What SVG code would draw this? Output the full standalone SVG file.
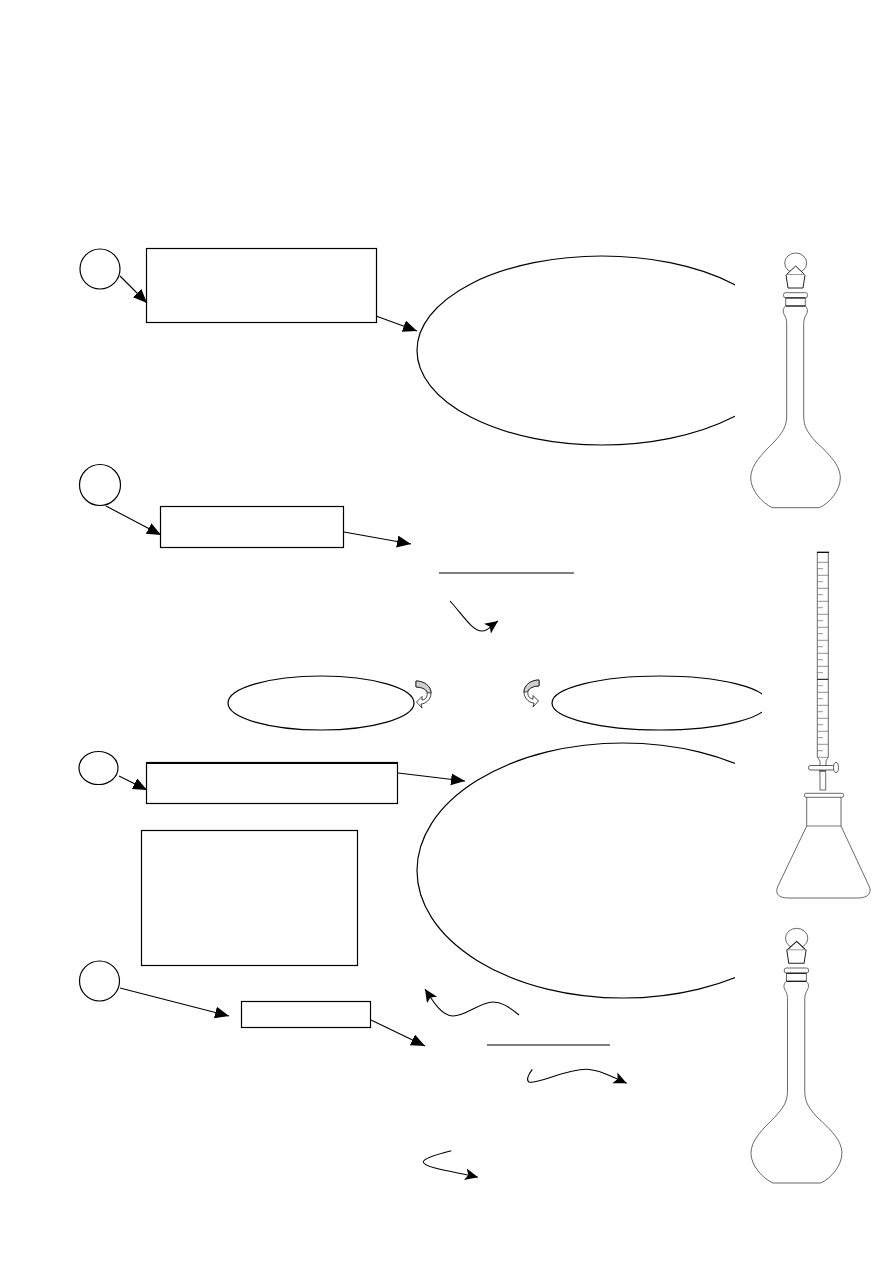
<svg xmlns="http://www.w3.org/2000/svg" width="893" height="1263" viewBox="0 0 893 1263">
<style>
.s{fill:none;stroke:#000;stroke-width:1.2}
.a{fill:none;stroke:#000;stroke-width:1.1;marker-end:url(#h)}
.c{fill:none;stroke:#000;stroke-width:1.1;marker-end:url(#v)}
.g{fill:none;stroke:#444;stroke-width:.8}
.t{stroke:#777;stroke-width:.8}
.cw{fill:#fff;stroke:#111;stroke-width:.8}
.cg{fill:#cfcfcf;stroke:#111;stroke-width:.8}
</style>
<defs>
<marker id="h" markerUnits="userSpaceOnUse" markerWidth="16" markerHeight="14" refX="14" refY="6" orient="auto"><path d="M0,0L14,6L0,12Z"/></marker>
<marker id="v" markerUnits="userSpaceOnUse" markerWidth="16" markerHeight="14" refX="13" refY="6" orient="auto"><path d="M0,0L13,6L0,12L3,6Z"/></marker>
<clipPath id="k1"><rect x="400" y="240" width="335" height="220"/></clipPath>
<clipPath id="k2"><rect x="400" y="730" width="335" height="280"/></clipPath>
<clipPath id="k3"><rect x="540" y="660" width="222" height="80"/></clipPath>
<g id="flask">
<ellipse cx="795.700" cy="263" rx="11" ry="10" fill="none" stroke="#444" stroke-width=".8"/>
<path d="M795.700,266L786,275L788,288H803L805,275Z" fill="#fff" stroke="#222" stroke-width="1"/>
<path d="M786.500,274.500H805" stroke="#999"/>
<rect x="783.500" y="292.700" width="24" height="5" rx="2" class="g"/>
<path d="M785.700,297.700V306H805.300V297.700" class="g"/>
<path d="M785.700,298H805.300M785.700,306H805.300" stroke="#000" stroke-width="1"/>
<path class="g" d="M785.700,306C782,309 783,313 785,316C786.500,319 786.700,321 786.700,325V416C786.700,427 782,433 774,442C762,454 750.700,465 750.700,478C750.700,490 762,503 772.300,507.700H819.300C830,503 840.300,490 840.300,478C840.300,465 829,454 816,442C808,433 803.700,427 803.700,416V325C803.700,321 804,319 805.500,316C807.500,313 808.500,309 805.300,306"/>
</g>
<g id="curl">
<path class="cw" d="M416,681C424,681 431,686 431,693C431,700 425,704 421,704L422,708L416.500,702L422,696.500L422,700C425,700 428,697 427,692C426,689 421,687 416,687Z"/>
<path class="cg" d="M416,681C424,681 431,686 431,693C429,693 428,693 427,692C426,689 421,687 416,687Z"/>
</g>
</defs>

<g id="connectors">
<path class="a" d="M120,276L147,303"/>
<path class="a" d="M376,316L417,331"/>
<path class="a" d="M106,506L161,535"/>
<path class="a" d="M344,532L411,544"/>
<path class="a" d="M119,776L147,790"/>
<path class="a" d="M398,773L465,781"/>
<path class="a" d="M120,988L229,1016"/>
<path class="a" d="M371,1020L425,1046"/>
<path class="c" d="M450,601C462,614 472,631 482,631C488,631 491,626 498,621"/>
<path class="c" d="M519,1015C508,1006 501,1002 493,1002C480,1002 466,1016 453,1016C442,1016 434,1003 425,989"/>
<path class="c" d="M532.300,1069.300C528,1075 526,1080 529,1082C536,1085 566,1069 586.700,1069.300C600,1070 613,1077 626.700,1083.300"/>
<path class="c" d="M451.300,1150.700C438,1154 423,1158 423.300,1162C424,1168 456,1172 478,1177.300"/>
<path d="M439,573H574M487,1045H610" stroke="#000" stroke-width="1.200" fill="none"/>
</g>

<g id="n1"><circle cx="100" cy="269" r="20" class="s"/></g>
<g id="n2"><rect x="146.500" y="248.500" width="230" height="74" class="s"/></g>
<g id="n3"><ellipse cx="602" cy="350.500" rx="185" ry="94.500" class="s" clip-path="url(#k1)"/></g>
<g id="n4"><circle cx="100" cy="485" r="20.500" class="s"/></g>
<g id="n5"><rect x="160.500" y="506.500" width="183" height="41" class="s"/></g>
<g id="n6"><ellipse cx="321" cy="703" rx="93" ry="27" class="s"/></g>
<g id="n7"><ellipse cx="660" cy="703" rx="108" ry="27" class="s" clip-path="url(#k3)"/></g>
<g id="n8"><ellipse cx="98.500" cy="768" rx="19.500" ry="16.500" class="s"/></g>
<g id="n9"><rect x="146.500" y="762.500" width="251" height="41" class="s"/><path d="M146,763H398" stroke="#000" stroke-width="2"/></g>
<g id="n10"><rect x="141.500" y="830.500" width="216" height="135" class="s"/></g>
<g id="n11"><ellipse cx="623" cy="870.500" rx="206" ry="127.500" class="s" clip-path="url(#k2)"/></g>
<g id="n12"><circle cx="99.500" cy="981" r="20" class="s"/></g>
<g id="n13"><rect x="241.500" y="1001.500" width="129" height="26" class="s"/></g>

<g id="curl1"><use href="#curl"/></g>
<g id="curl2"><use href="#curl" transform="translate(955,-1) scale(-1,1)"/></g>

<g id="flask1"><use href="#flask"/></g>
<g id="flask2"><use href="#flask" transform="translate(-11,675.300) scale(1.015,1)"/></g>

<g id="burette">
<path class="g" d="M817.300,552V757L820,761V766M828.300,552V757L826,761V766"/>
<path d="M817,552.300H829" stroke="#000" stroke-width="1.300"/>
<path class="t" d="M817.300,562.300H828.300M817.300,575.300H828.300M817.300,588.300H828.300M817.300,601.300H828.300M817.300,614.300H828.300M817.300,627.300H828.300M817.300,640.300H828.300M817.300,653.300H828.300M817.300,666.300H828.300M817.300,692.300H828.300M817.300,705.300H828.300M817.300,718.300H828.300M817.300,731.300H828.300M817.300,744.300H828.300M817.300,757.300H828.300"/>
<path d="M817.300,679.300H828.300" stroke="#000"/>
<path class="t" d="M817.300,568.700H823M817.300,581.700H823M817.300,594.700H823M817.300,607.700H823M817.300,620.700H823M817.300,633.700H823M817.300,646.700H823M817.300,659.700H823M817.300,672.700H823M817.300,685.700H823M817.300,698.700H823M817.300,711.700H823M817.300,724.700H823M817.300,737.700H823M817.300,750.700H823"/>
<rect x="808.500" y="765.500" width="26" height="4.500" rx="2" fill="#fff" stroke="#333" stroke-width=".8"/>
<ellipse cx="836" cy="767.500" rx="2.500" ry="5" fill="#fff" stroke="#333" stroke-width=".8"/>
<path d="M820,771.700V790H825.700V771.700" class="g"/>
<path d="M819,771H826" stroke="#000" stroke-width="1"/>
</g>
<g id="erlenmeyer">
<rect x="804.500" y="793.300" width="39" height="4" rx="1.500" class="g"/>
<path class="g" d="M806.700,797.300V826L778,886C775,892 777,898 788,898H858C869,898 872,892 869,886L841,826V797.300"/>
<path d="M806.700,826H841" stroke="#555" stroke-width=".8"/>
</g>
</svg>
